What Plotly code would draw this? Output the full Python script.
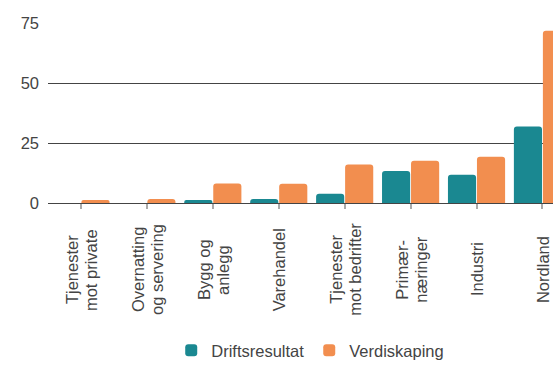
import plotly.graph_objects as go

# Sector categories (each entry: the lines of the label) and values per series
categories = [
    ["Tjenester", "mot private"],
    ["Overnatting", "og servering"],
    ["Bygg og", "anlegg"],
    ["Varehandel"],
    ["Tjenester", "mot bedrifter"],
    ["Primær-", "næringer"],
    ["Industri"],
    ["Nordland"],
]
driftsresultat = [0.0, 0.0, 1.2, 1.7, 3.9, 13.3, 11.8, 31.9]
verdiskaping = [1.2, 1.7, 8.1, 8.0, 16.0, 17.6, 19.3, 71.8]

y_ticks = [0, 25, 50, 75]

TEAL = "#1a8891"
ORANGE = "#f28e4f"
TEXT = "#444444"
FONT = "Liberation Sans, Arial, sans-serif"
FS = 16.5
LINE_STEP = 19  # px between label lines

xs = list(range(len(categories)))

fig = go.Figure()
fig.add_trace(go.Bar(x=xs, y=driftsresultat, name="Driftsresultat",
                     marker=dict(color=TEAL, line=dict(width=0))))
fig.add_trace(go.Bar(x=xs, y=verdiskaping, name="Verdiskaping",
                     marker=dict(color=ORANGE, line=dict(width=0))))

# Category labels, rotated and centred below the axis, one annotation per line
for i, lines in enumerate(categories):
    n = len(lines)
    for k, line in enumerate(lines):
        fig.add_annotation(
            x=i, xref="x", y=-0.32, yref="paper", yshift=-9,
            xshift=(k - (n - 1) / 2) * LINE_STEP,
            text=line, textangle=-90, showarrow=False,
            xanchor="center", yanchor="middle", align="center",
            font=dict(family=FONT, size=FS, color=TEXT),
        )

fig.update_layout(
    width=553, height=387,
    margin=dict(l=48, r=0, t=23, b=184),
    paper_bgcolor="white", plot_bgcolor="white",
    barmode="group", bargap=0.12, bargroupgap=0.03,
    barcornerradius=3,
    font=dict(family=FONT, size=FS, color=TEXT),
    showlegend=True,
    legend=dict(
        orientation="h", x=0.244, xanchor="left", y=-0.82, yanchor="middle",
        font=dict(family=FONT, size=FS, color=TEXT),
        itemclick=False, itemdoubleclick=False,
    ),
    xaxis=dict(
        range=[-0.5, 7.16], tickvals=xs, showticklabels=False,
        tickson="boundaries", ticks="outside", ticklen=5,
        tickcolor="#aaaaaa", tickwidth=2,
        showgrid=False, zeroline=False, showline=False,
    ),
    yaxis=dict(
        range=[0, 75], tickvals=y_ticks,
        showgrid=True, gridcolor="#444444", gridwidth=1,
        zeroline=True, zerolinecolor="#444444", zerolinewidth=1,
        showline=False, ticks="", ticklabelstandoff=8,
        tickfont=dict(family=FONT, size=FS, color=TEXT),
    ),
)

fig.write_html("out.html")
